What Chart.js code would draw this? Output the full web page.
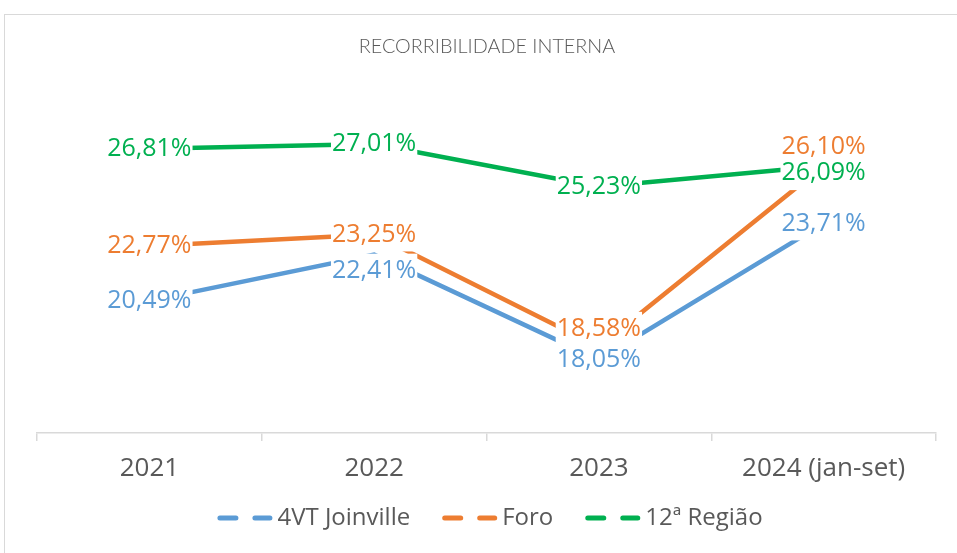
<!DOCTYPE html>
<html><head><meta charset="utf-8">
<script src="https://cdn.jsdelivr.net/npm/chart.js@4.4.1/dist/chart.umd.min.js"></script>
<style>
html,body{margin:0;padding:0;background:#fff;overflow:hidden}
#wrap{position:absolute;left:0;top:0;width:957px;height:553px}
</style></head><body><div id="wrap"><canvas id="c"></canvas></div>
<script>
const categories = ['2021', '2022', '2023', '2024 (jan-set)'];
const seriesNames = ['4VT Joinville', 'Foro', '12ª Região'];
const joinville = [20.49, 22.41, 18.05, 23.71];
const foro = [22.77, 23.25, 18.58, 26.10];
const regiao = [26.81, 27.01, 25.23, 26.09];
const chartTitle = 'RECORRIBILIDADE INTERNA';

const colors = ['#5B9BD5', '#ED7D31', '#00B050'];
const labelShift = [[0, 16, 0, 0], [0, 0, -18, -19], [0, 0, 0, 7]];
const textColor = '#595959';

function fmt(v) { return v.toFixed(2).replace('.', ',') + '%'; }

const framePlugin = {
  id: 'frame',
  beforeDraw(chart) {
    const ctx = chart.ctx;
    ctx.save();
    ctx.fillStyle = '#fff';
    ctx.fillRect(0, 0, chart.width, chart.height);
    ctx.strokeStyle = '#d9d9d9';
    ctx.lineWidth = 1;
    ctx.strokeRect(4.5, 14.5, 1200, 1200);
    ctx.font = '300 19.8px Lato';
    ctx.fillStyle = textColor;
    ctx.textAlign = 'center';
    ctx.textBaseline = 'middle';
    ctx.fillText(chartTitle, 487, 47);
    ctx.restore();
  }
};

const labelPlugin = {
  id: 'dlabels',
  afterDatasetsDraw(chart) {
    const ctx = chart.ctx;
    ctx.save();
    ctx.font = '25px "Open Sans"';
    ctx.textAlign = 'center';
    ctx.textBaseline = 'middle';
    const items = [];
    chart.data.datasets.forEach((ds, di) => {
      const meta = chart.getDatasetMeta(di);
      meta.data.forEach((pt, i) => {
        const txt = fmt(ds.data[i]);
        const w = ctx.measureText(txt).width;
        items.push({ txt, w, x: pt.x, y: pt.y + labelShift[di][i], c: ds.borderColor });
      });
    });
    ctx.fillStyle = '#fff';
    items.forEach(it => ctx.fillRect(it.x - it.w / 2 - 1, it.y - 17, it.w + 2, 34));
    items.forEach(it => { ctx.fillStyle = it.c; ctx.fillText(it.txt, it.x, it.y); });
    ctx.restore();
  },
  afterDraw(chart) {
    const ctx = chart.ctx;
    ctx.save();
    ctx.font = '24px "Open Sans"';
    ctx.textBaseline = 'middle';
    const sample = 55, gapT = 5, gapI = 32, yc = 518;
    const widths = chart.data.datasets.map(ds => ctx.measureText(ds.label).width);
    let total = 0;
    widths.forEach((w, i) => { total += sample + gapT + w + (i < widths.length - 1 ? gapI : 0); });
    let x = 490 - total / 2;
    chart.data.datasets.forEach((ds, i) => {
      ctx.strokeStyle = ds.borderColor;
      ctx.lineWidth = 5;
      ctx.lineCap = 'round';
      ctx.setLineDash([16, 19]);
      ctx.beginPath();
      ctx.moveTo(x + 2.5, yc);
      ctx.lineTo(x + sample - 2.5, yc);
      ctx.stroke();
      ctx.setLineDash([]);
      ctx.fillStyle = textColor;
      ctx.textAlign = 'left';
      ctx.fillText(ds.label, x + sample + gapT, yc);
      x += sample + gapT + widths[i] + gapI;
    });
    ctx.restore();
  }
};

const seriesData = [joinville, foro, regiao];
new Chart(document.getElementById('c'), {
  type: 'line',
  data: {
    labels: categories,
    datasets: seriesNames.map((n, i) => ({
      label: n,
      data: seriesData[i],
      borderColor: colors[i],
      backgroundColor: colors[i],
      borderWidth: 4.5,
      pointRadius: 0,
      pointHoverRadius: 0,
      tension: 0,
      fill: false,
      borderCapStyle: 'round'
    }))
  },
  options: {
    responsive: true,
    maintainAspectRatio: false,
    animation: false,
    events: [],
    layout: { padding: { left: 37, right: 21, top: 72, bottom: 0 } },
    plugins: {
      legend: { display: false },
      title: { display: false },
      tooltip: { enabled: false }
    },
    scales: {
      x: {
        type: 'category',
        offset: true,
        grid: { offset: true, drawOnChartArea: false, drawTicks: true, tickLength: 8, color: '#d9d9d9', lineWidth: 1.5 },
        border: { display: true, color: '#d9d9d9', width: 1.5 },
        ticks: { color: textColor, font: { family: 'Open Sans', size: 26 }, padding: 12, maxRotation: 0 },
        afterFit(scale) { scale.height = 120; }
      },
      y: { display: false, min: 15, max: 30 }
    }
  },
  plugins: [framePlugin, labelPlugin]
});
</script></body></html>
